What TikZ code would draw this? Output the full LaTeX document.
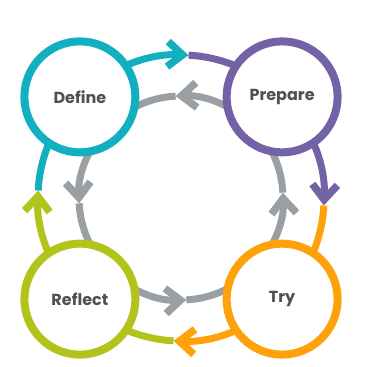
\documentclass[tikz,border=0pt]{standalone}
\usepackage{fontspec}
\setmainfont{Poppins}
\usetikzlibrary{arrows.meta,backgrounds}
\definecolor{defteal}{HTML}{12AFC0}
\definecolor{prepurple}{HTML}{7462A6}
\definecolor{tryorange}{HTML}{FFA10A}
\definecolor{refgreen}{HTML}{B2C31C}
\definecolor{ringgray}{HTML}{9A9FA4}
\definecolor{labelgray}{HTML}{4D5156}

\begin{document}
\begin{tikzpicture}[
  x=1pt, y=1pt,
  every node/.style={circle, draw, line width=8pt, minimum size=111pt, fill=white,
    text=labelgray, font=\bfseries\fontsize{16}{18}\selectfont},
  outer/.style={line width=7pt},
  inner/.style={line width=7pt, draw=ringgray},
  tip/.style={-{Straight Barb[length=15pt, width=25pt, line width=7.5pt, sharp]}}
]
\useasboundingbox (0,0) rectangle (367,367);
\coordinate (hub) at (181,169);

\node[draw=defteal] (define) at ([shift={(135:143)}]hub) {Define};
\node[draw=prepurple] (prepare) at ([shift={(45:143)}]hub) {Prepare};
\node[draw=tryorange] (try) at ([shift={(-45:143)}]hub) {Try};
\node[draw=refgreen] (reflect) at ([shift={(-135:143)}]hub) {Reflect};

\begin{scope}[on background layer]
  % outer ring, clockwise
  \draw[outer, tip, draw=defteal] (define.center) arc[start angle=135, end angle=87, radius=143];
  \draw[outer, draw=prepurple] (prepare.center) arc[start angle=45, end angle=87, radius=143];
  \draw[outer, tip, draw=prepurple] (prepare.center) arc[start angle=45, end angle=-3, radius=143];
  \draw[outer, draw=tryorange] (try.center) arc[start angle=-45, end angle=-3, radius=143];
  \draw[outer, tip, draw=tryorange] (try.center) arc[start angle=-45, end angle=-93, radius=143];
  \draw[outer, draw=refgreen] (reflect.center) arc[start angle=-135, end angle=-93, radius=143];
  \draw[outer, tip, draw=refgreen] (reflect.center) arc[start angle=225, end angle=177, radius=143];
  \draw[outer, draw=defteal] (define.center) arc[start angle=135, end angle=177, radius=143];
  % inner ring, counter-clockwise
  \draw[inner, tip] (hub) ++(45:102) arc[start angle=45, end angle=93, radius=102];
  \draw[inner] (hub) ++(135:102) arc[start angle=135, end angle=93, radius=102];
  \draw[inner, tip] (hub) ++(135:102) arc[start angle=135, end angle=183, radius=102];
  \draw[inner] (hub) ++(225:102) arc[start angle=225, end angle=183, radius=102];
  \draw[inner, tip] (hub) ++(225:102) arc[start angle=225, end angle=273, radius=102];
  \draw[inner] (hub) ++(315:102) arc[start angle=315, end angle=273, radius=102];
  \draw[inner, tip] (hub) ++(-45:102) arc[start angle=-45, end angle=3, radius=102];
  \draw[inner] (hub) ++(45:102) arc[start angle=45, end angle=3, radius=102];
\end{scope}
\end{tikzpicture}
\end{document}
